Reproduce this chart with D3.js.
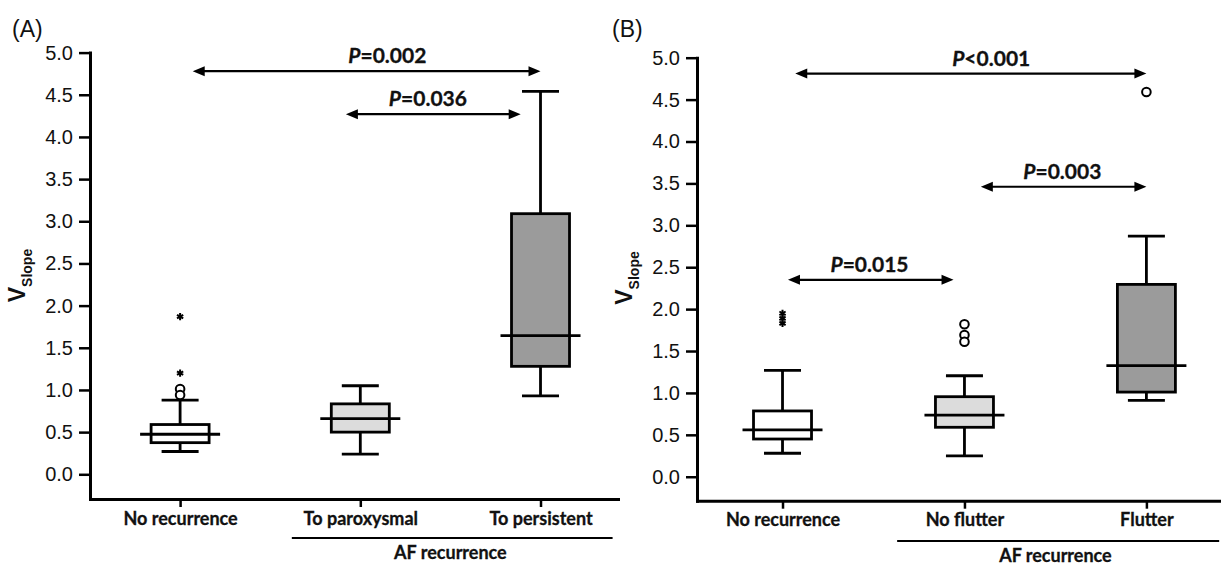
<!DOCTYPE html>
<html>
<head>
<meta charset="utf-8">
<script src="https://cdn.jsdelivr.net/npm/d3@7"></script>
<style>
  body { margin: 0; background: #fff; }
  svg { display: block; }
</style>
</head>
<body>
<svg width="1221" height="566"></svg>
<script>
// panel A
var catsA = ["No recurrence", "To paroxysmal", "To persistent"];
var lowA = [0.27, 0.24, 0.93];
var q1A = [0.375, 0.50, 1.28];
var medA = [0.475, 0.66, 1.645];
var q3A = [0.59, 0.835, 3.09];
var highA = [0.88, 1.05, 4.54];
var circlesA = [[0, 1.01], [0, 0.94]];
var starsA = [[0, 1.87], [0, 1.20]];
var pFromA = [0.07, 0.92];
var pToA = [2.0, 1.89];
var pAtA = [4.78, 4.27];
var pLabelAtA = [1.15, 1.375];
var pTextA = ["=0.002", "=0.036"];

// panel B
var catsB = ["No recurrence", "No flutter", "Flutter"];
var lowB = [0.28, 0.25, 0.91];
var q1B = [0.45, 0.59, 1.01];
var medB = [0.56, 0.735, 1.325];
var q3B = [0.785, 0.955, 2.295];
var highB = [1.27, 1.205, 2.87];
var circlesB = [[1, 1.82], [1, 1.69], [1, 1.61], [2, 4.59]];
var starsB = [[0, 1.95], [0, 1.89], [0, 1.83]];
var pFromB = [0.07, 1.09, 0.03];
var pToB = [2.0, 2.0, 0.94];
var pAtB = [4.81, 3.46, 2.35];
var pLabelAtB = [1.147, 1.538, 0.478];
var pTextB = ["<0.001", "=0.003", "=0.015"];

var yTicks = [0, 0.5, 1, 1.5, 2, 2.5, 3, 3.5, 4, 4.5, 5];
var boxFill = ["#ffffff", "#dcdcdc", "#9b9b9b"];

var svg = d3.select("svg");
var catFont = "Lato, 'Open Sans', sans-serif";
var numFont = "'Liberation Sans', Arial, sans-serif";

function drawPanel(p) {
  var x = d3.scaleLinear().domain(p.xDomain).range(p.xRange);
  var y = d3.scaleLinear().domain(p.yDomain).range(p.yRange);
  var g = svg.append("g");

  // y axis
  var ya = g.append("g")
    .attr("transform", "translate(" + p.xRange[0] + ",0)")
    .call(d3.axisLeft(y).tickValues(yTicks).tickFormat(d3.format(".1f"))
      .tickSize(11).tickSizeOuter(0).tickPadding(6));
  ya.select(".domain").attr("stroke-width", 3).attr("stroke-linecap", "square");
  ya.selectAll(".tick line").attr("stroke-width", 2.5);
  ya.selectAll(".tick text").attr("font-family", numFont).attr("font-size", 20).attr("fill", "#111");

  // x axis
  var xa = g.append("g")
    .attr("transform", "translate(0," + p.yRange[0] + ")")
    .call(d3.axisBottom(x).tickValues([0, 1, 2]).tickFormat(function(i) { return p.cats[i]; })
      .tickSize(8).tickSizeOuter(0).tickPadding(5));
  xa.select(".domain").attr("stroke-width", 3).attr("stroke-linecap", "square");
  xa.selectAll(".tick line").attr("stroke-width", 2.5);
  xa.selectAll(".tick text").attr("font-family", catFont).attr("font-weight", "bold")
    .attr("font-size", 18).attr("fill", "#111")
    .attr("stroke", "#111").attr("stroke-width", 0.3);

  // group line + label
  g.append("line")
    .attr("x1", x(p.groupFrom)).attr("x2", x(2.4))
    .attr("y1", p.groupY).attr("y2", p.groupY)
    .attr("stroke", "#000").attr("stroke-width", 2);
  g.append("text")
    .attr("x", x(1.5)).attr("y", p.groupY + 21)
    .attr("text-anchor", "middle")
    .attr("font-family", catFont).attr("font-weight", "bold").attr("font-size", 18)
    .attr("fill", "#111").attr("stroke", "#111").attr("stroke-width", 0.3)
    .text("AF recurrence");

  // boxes
  var idx = [0, 1, 2];
  var boxW = 58, capW = 37, medW = 80;
  var bx = g.append("g").attr("stroke", "#000").attr("stroke-width", 2.8);
  bx.selectAll(".whisker").data(idx).enter().append("path")
    .attr("class", "whisker")
    .attr("fill", "none")
    .attr("d", function(i) {
      var cx = x(i);
      return "M" + cx + "," + y(p.low[i]) + "V" + y(p.q1[i]) +
        "M" + cx + "," + y(p.q3[i]) + "V" + y(p.high[i]) +
        "M" + (cx - capW / 2) + "," + y(p.low[i]) + "h" + capW +
        "M" + (cx - capW / 2) + "," + y(p.high[i]) + "h" + capW;
    });
  bx.selectAll("rect").data(idx).enter().append("rect")
    .attr("x", function(i) { return x(i) - boxW / 2; })
    .attr("y", function(i) { return y(p.q3[i]); })
    .attr("width", boxW)
    .attr("height", function(i) { return y(p.q1[i]) - y(p.q3[i]); })
    .attr("fill", function(i) { return boxFill[i]; });
  bx.selectAll(".median").data(idx).enter().append("line")
    .attr("class", "median")
    .attr("x1", function(i) { return x(i) - medW / 2; })
    .attr("x2", function(i) { return x(i) + medW / 2; })
    .attr("y1", function(i) { return y(p.med[i]); })
    .attr("y2", function(i) { return y(p.med[i]); });

  // outliers
  g.selectAll(".out").data(p.circles).enter().append("circle")
    .attr("class", "out")
    .attr("cx", function(d) { return x(d[0]); })
    .attr("cy", function(d) { return y(d[1]); })
    .attr("r", 4.3)
    .attr("fill", "#fff").attr("stroke", "#000").attr("stroke-width", 2);
  g.selectAll(".star").data(p.stars).enter().append("path")
    .attr("class", "star")
    .attr("transform", function(d) { return "translate(" + x(d[0]) + "," + y(d[1]) + ")"; })
    .attr("d", d3.symbol().type(d3.symbolAsterisk).size(36))
    .attr("fill", "none").attr("stroke", "#000").attr("stroke-width", 2);

  // comparison arrows
  var head = 12, half = 5;
  p.pAt.forEach(function(v, k) {
    var x1 = x(p.pFrom[k]), x2 = x(p.pTo[k]), yy = y(v);
    g.append("line")
      .attr("x1", x1 + head - 1).attr("x2", x2 - head + 1)
      .attr("y1", yy).attr("y2", yy)
      .attr("stroke", "#000").attr("stroke-width", 2.2);
    g.append("path")
      .attr("d", "M" + x1 + "," + yy + "l" + head + "," + (-half) + "v" + (2 * half) + "Z" +
        "M" + x2 + "," + yy + "l" + (-head) + "," + (-half) + "v" + (2 * half) + "Z")
      .attr("fill", "#000");
    var t = g.append("text")
      .attr("x", x(p.pLabelAt[k])).attr("y", yy - 8)
      .attr("text-anchor", "middle")
      .attr("font-family", catFont).attr("font-weight", "bold").attr("font-size", 21)
      .attr("fill", "#111").attr("stroke", "#111").attr("stroke-width", 0.3);
    t.append("tspan").attr("font-style", "italic").text("P");
    t.append("tspan").text(p.pText[k]);
  });

  // y title
  var yt = g.append("text")
    .attr("transform", "translate(" + (p.xRange[0] - 65) + "," + (y(0) - 172) + ") rotate(-90)")
    .attr("font-family", numFont).attr("font-weight", "bold").attr("fill", "#111");
  yt.append("tspan").attr("font-size", 23).text("V");
  yt.append("tspan").attr("font-size", 14).attr("dy", 6.5).text("Slope");

  // panel letter
  svg.append("text")
    .attr("x", p.letterX).attr("y", 37)
    .attr("font-family", numFont).attr("font-size", 23).attr("fill", "#111")
    .text(p.letter);
}

drawPanel({
  letter: "(A)", letterX: 12,
  cats: catsA, low: lowA, q1: q1A, med: medA, q3: q3A, high: highA,
  circles: circlesA, stars: starsA,
  pFrom: pFromA, pTo: pToA, pAt: pAtA, pLabelAt: pLabelAtA, pText: pTextA,
  xDomain: [-0.5, 2.43], xRange: [90, 618],
  yDomain: [-0.293, 5], yRange: [499, 52.6],
  groupFrom: 0.62, groupY: 538
});

drawPanel({
  letter: "(B)", letterX: 612,
  cats: catsB, low: lowB, q1: q1B, med: medB, q3: q3B, high: highB,
  circles: circlesB, stars: starsB,
  pFrom: pFromB, pTo: pToB, pAt: pAtB, pLabelAt: pLabelAtB, pText: pTextB,
  xDomain: [-0.47, 2.41], xRange: [697, 1221],
  yDomain: [-0.286, 5], yRange: [500.7, 57.7],
  groupFrom: 0.63, groupY: 541
});
</script>
</body>
</html>
